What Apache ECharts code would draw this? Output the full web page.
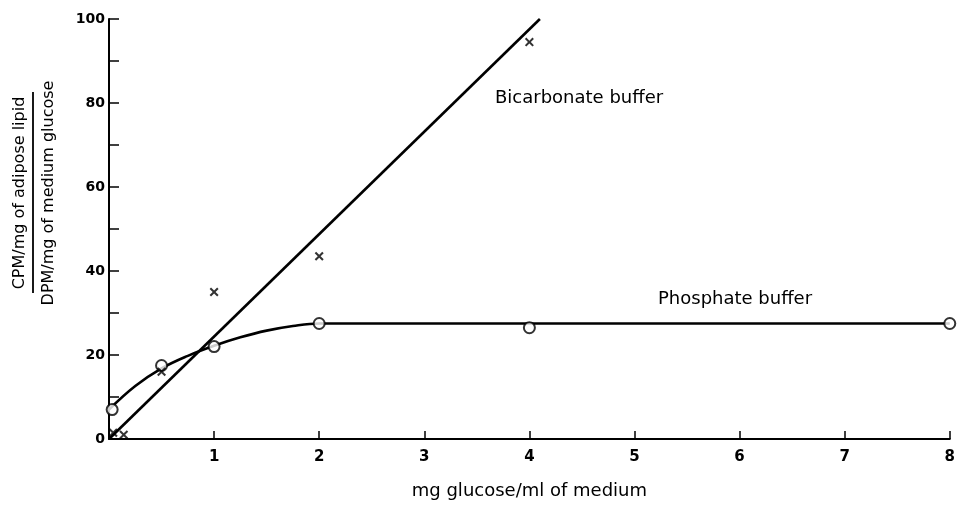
<!DOCTYPE html>
<html><head><meta charset="utf-8">
<script src="https://cdn.jsdelivr.net/npm/echarts@6/dist/echarts.min.js"></script>
<style>html,body{margin:0;padding:0;background:#fff}#c{width:958px;height:505px}</style>
</head><body><div id="c"></div>
<script>
// Data
const xTicks = [0,1,2,3,4,5,6,7,8];
const yTicks = [0,20,40,60,80,100];
const phosphatePoints = [[0.03,7],[0.5,17.5],[1,22],[2,27.5],[4,26.5],[8,27.5]];
const phosphateCurve = [[0,7],[0.25,12.6],[0.5,16.8],[0.75,19.8],[1,22.2],[1.25,24.2],[1.5,25.8],[1.75,26.9],[2,27.5],[4,27.5],[8,27.5]];
const bicarbonatePoints = [[0.04,1.5],[0.14,1],[0.5,16],[1,35],[2,43.5],[4,94.5]];
const bicarbonateLine = [[0,0],[4.1,100]];
const labels = {bic:'Bicarbonate buffer', pho:'Phosphate buffer', x:'mg glucose/ml of medium', yTop:'CPM/mg of adipose lipid', yBot:'DPM/mg of medium glucose'};

const chart = echarts.init(document.getElementById('c'), null, {renderer:'canvas'});
const FONT = 'DejaVu Sans';
const crossPath = 'path://M0,1.6L1.6,0L5,3.4L8.4,0L10,1.6L6.6,5L10,8.4L8.4,10L5,6.6L1.6,10L0,8.4L3.4,5Z';
chart.setOption({
  animation:false,
  backgroundColor:'#fff',
  grid:{left:109,right:2,top:19,bottom:56,containLabel:false},
  xAxis:{type:'value',min:0,max:8,interval:1,
    axisLine:{lineStyle:{color:'#000',width:2}},
    axisTick:{inside:true,length:8,lineStyle:{color:'#000',width:1.5}},
    splitLine:{show:false},
    axisLabel:{color:'#000',fontFamily:FONT,fontSize:15,margin:11,fontWeight:'bold',
      formatter:v=> (v===0?'':String(v))},
    name:labels.x,nameLocation:'middle',nameGap:43,
    nameTextStyle:{color:'#000',fontFamily:FONT,fontSize:18}
  },
  yAxis:{type:'value',min:0,max:100,interval:10,
    axisLine:{lineStyle:{color:'#000',width:2}},
    axisTick:{inside:true,length:10,lineStyle:{color:'#000',width:1.5}},
    splitLine:{show:false},
    axisLabel:{color:'#000',fontFamily:FONT,fontSize:14,margin:4,fontWeight:'bold',
      formatter:v=> (yTicks.indexOf(v)>=0?String(v):'')}
  },
  series:[
    {type:'line',data:bicarbonateLine,symbol:'none',lineStyle:{color:'#000',width:2.6},z:2},
    {type:'line',data:phosphateCurve,smooth:0.4,symbol:'none',lineStyle:{color:'#000',width:2.6},z:2},
    {type:'scatter',data:phosphatePoints,symbol:'circle',symbolSize:11,
      itemStyle:{color:'#fff',borderColor:'#000',borderWidth:2},z:5},
    {type:'scatter',data:bicarbonatePoints,symbol:crossPath,symbolSize:9,
      itemStyle:{color:'#000'},z:5}
  ],
  graphic:[
    {type:'text',left:495,top:89,style:{text:labels.bic,fill:'#000',font:'18px "DejaVu Sans"'}},
    {type:'text',left:658,top:290,style:{text:labels.pho,fill:'#000',font:'18px "DejaVu Sans"'}},
    {type:'text',x:20,y:193,rotation:Math.PI/2,style:{text:labels.yTop,fill:'#000',font:'16px "DejaVu Sans"',align:'center',verticalAlign:'middle'}},
    {type:'line',shape:{x1:33,y1:92,x2:33,y2:293},style:{stroke:'#000',lineWidth:1.8}},
    {type:'text',x:49,y:193,rotation:Math.PI/2,style:{text:labels.yBot,fill:'#000',font:'16px "DejaVu Sans"',align:'center',verticalAlign:'middle'}}
  ]
});
</script></body></html>
